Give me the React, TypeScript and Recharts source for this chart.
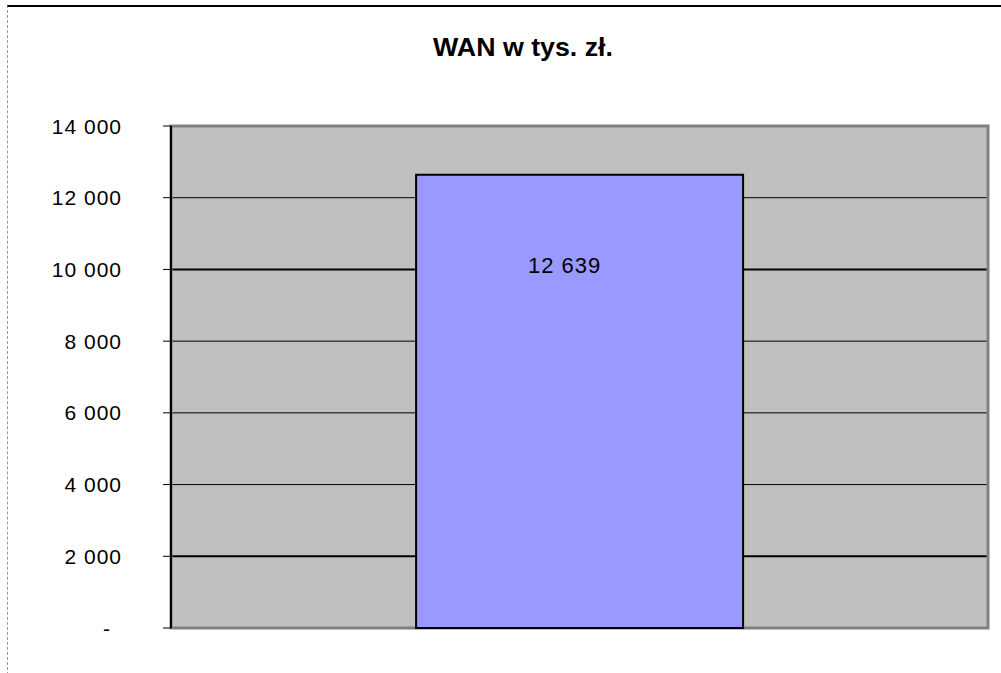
import {
  BarChart,
  Bar,
  XAxis,
  YAxis,
  CartesianGrid,
  ReferenceArea,
  LabelList,
} from 'recharts'

const TITLE = 'WAN w tys. zł.'
const categories = ['WAN']
const values = [12639]
const yTicks = [0, 2000, 4000, 6000, 8000, 10000, 12000, 14000]
const heavyTicks = [2000, 10000] // these gridlines look thicker in the original

const FONT = '"Liberation Sans", Arial, sans-serif'

const fmt = (v: number) =>
  v === 0 ? '-' : String(v).replace(/\B(?=(\d{3})+(?!\d))/g, ' ')

const data = categories.map((name, i) => ({ name, value: values[i] }))

// eslint-disable-next-line @typescript-eslint/no-explicit-any
function YTick({ x, y, payload }: any) {
  const v = payload.value as number
  return (
    <text
      x={v === 0 ? x - 11 : x}
      y={y}
      textAnchor="end"
      dominantBaseline="central"
      fontSize={21}
      fontFamily={FONT}
      letterSpacing={1}
      fill="#000"
    >
      {fmt(v)}
    </text>
  )
}

// eslint-disable-next-line @typescript-eslint/no-explicit-any
function ValueLabel({ x, y, width, value }: any) {
  return (
    <text
      x={x + width / 2 - 15}
      y={y + 91}
      textAnchor="middle"
      dominantBaseline="central"
      fontSize={22}
      fontFamily={FONT}
      letterSpacing={1}
      fill="#000"
    >
      {fmt(Number(value))}
    </text>
  )
}

// gridline renderer: heavier stroke on a couple of lines, like the scan
// eslint-disable-next-line @typescript-eslint/no-explicit-any
function GridLine(props: any) {
  const { x1, x2, y1, y2, index } = props
  const heavy = heavyTicks.includes(yTicks[index])
  return <line x1={x1} x2={x2} y1={y1} y2={y2} stroke="#000" strokeWidth={heavy ? 2 : 1} />
}

export default function App() {
  return (
    <div
      style={{
        position: 'absolute',
        left: 0,
        top: 0,
        width: 1001,
        height: 673,
        background: '#fff',
        overflow: 'hidden',
      }}
    >
      {/* cropped outer chart border: top + left only */}
      <div
        style={{
          position: 'absolute',
          left: 7,
          top: 5,
          width: 994,
          height: 668,
          borderTop: '2px solid #000',
          borderLeft: '1px dashed #999',
        }}
      />
      <div
        style={{
          position: 'absolute',
          left: 0,
          top: 33,
          width: 1046,
          textAlign: 'center',
          fontFamily: FONT,
          fontWeight: 'bold',
          fontSize: 25,
          lineHeight: '28px',
          color: '#000',
          transform: 'scaleX(1.07)',
        }}
      >
        {TITLE}
      </div>
      <BarChart
        width={1001}
        height={673}
        data={data}
        margin={{ top: 126, right: 13, bottom: 45, left: 0 }}
        barCategoryGap="30%"
        style={{ position: 'absolute', left: 0, top: 0 }}
      >
        <CartesianGrid vertical={false} fill="#C0C0C0" horizontal={GridLine} />
        <ReferenceArea y1={0} y2={14000} fill="none" stroke="#808080" strokeWidth={3} />
        <XAxis dataKey="name" hide />
        <YAxis
          width={171}
          domain={[0, 14000]}
          ticks={yTicks}
          interval={0}
          tickSize={8}
          tickMargin={41}
          axisLine={{ stroke: '#000', strokeWidth: 2 }}
          tickLine={{ stroke: '#000', strokeWidth: 1 }}
          tick={<YTick />}
        />
        <Bar dataKey="value" fill="#9999FF" stroke="#000" strokeWidth={2} isAnimationActive={false}>
          <LabelList dataKey="value" content={<ValueLabel />} />
        </Bar>
      </BarChart>
    </div>
  )
}
